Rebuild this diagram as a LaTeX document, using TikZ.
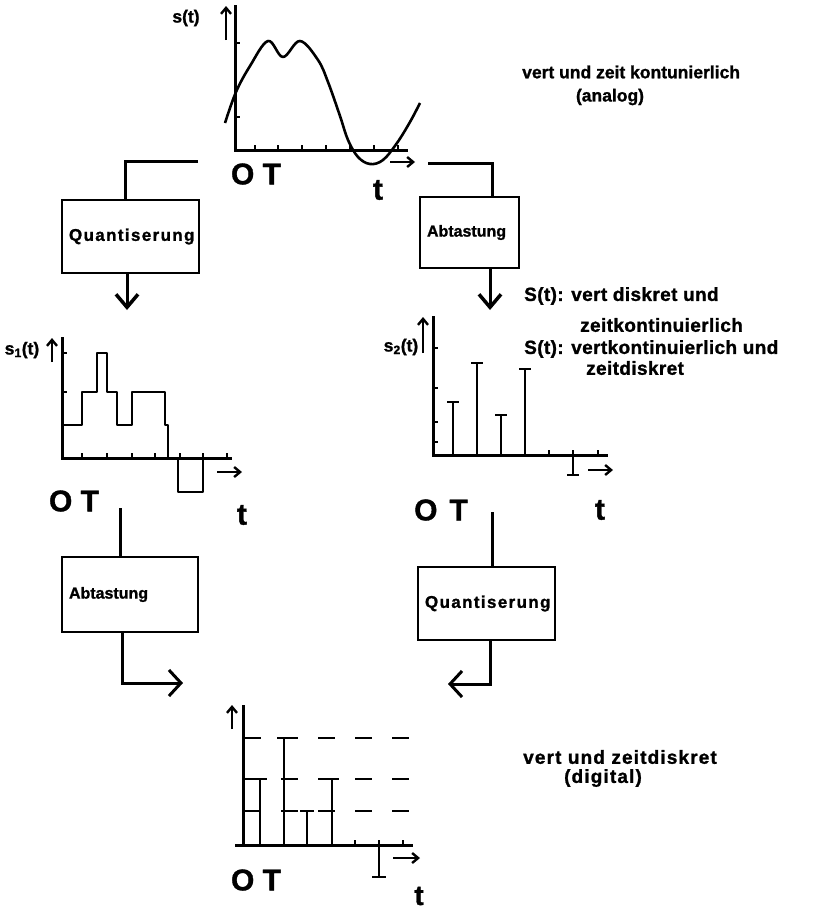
\documentclass[tikz,border=0pt]{standalone}
\usepackage{fontspec}
\setmainfont{Liberation Sans}[BoldFeatures={FakeBold=1.2}]
\newfontfamily\qspfont{Liberation Sans}[LetterSpace=8, BoldFeatures={FakeBold=1.2}]
\newfontfamily\dspfont{Liberation Sans}[LetterSpace=6, BoldFeatures={FakeBold=1.2}]
\newfontfamily\rspfont{Liberation Sans}[LetterSpace=2, BoldFeatures={FakeBold=1.2}]
\usetikzlibrary{arrows.meta}
\begin{document}
\begin{tikzpicture}[x=1pt,y=-1pt,
  ax/.style={line width=3pt},
  thin/.style={line width=2.4pt},
  curve/.style={line width=2.6pt, line join=round},
  boxn/.style={draw, line width=2.5pt, inner xsep=7pt, inner ysep=0pt, align=left,
    font=\bfseries\fontsize{16}{18}\selectfont},
  conn/.style={line width=3pt},
  vhead/.style={-{Straight Barb[length=13pt,width=22pt,line width=3.5pt]}},
  ohead/.style={-{Straight Barb[length=12pt,width=26pt,line width=3pt]}},
  sarrow/.style={line width=2.4pt,-{Straight Barb[length=6pt,width=10pt,line width=2.4pt]}},
  lbl/.style={font=\bfseries\fontsize{17.5}{19}\selectfont, inner sep=0pt},
  rlbl/.style={font=\rspfont\bfseries\fontsize{19}{21}\selectfont, inner sep=0pt},
  dlbl/.style={font=\dspfont\bfseries\fontsize{19}{21}\selectfont, inner sep=0pt},
  big/.style={font=\bfseries\fontsize{30}{32}\selectfont, inner sep=0pt},
]
\useasboundingbox (0,0) rectangle (835,913);
\fill[white] (0,0) rectangle (835,913);

% ---------- top plot (analog)
\node[lbl] (s0) at (186,18) {s(t)};
\coordinate (u0a) at (226,40); \coordinate (u0b) at (226,6);
\draw[sarrow] (u0a) -- (u0b);
\draw[ax] (235,5) -- (235,150) -- (408,150);
\foreach \x in {255,278,302,326,350,374,398} \draw[thin] (\x,150) -- (\x,145);
\foreach \y in {43,117} \draw[thin] (235,\y) -- (240,\y);
\draw[curve] plot[smooth, tension=0.6] coordinates {(225,123) (236,92) (250,66) (268,41) (283,57) (300,41) (318,60) (328,82) (340,116) (348,140) (358,157) (370,164) (383,160) (397,143) (410,122) (420,103)};
\coordinate (a0a) at (390,162); \coordinate (a0b) at (415,162);
\draw[sarrow] (a0a) -- (a0b);
\node[big] (ot0) at (256,174) {O T};
\node[big] (t0) at (378,190) {t};

\node[lbl, anchor=west] (d0) at (522,72) {vert und zeit kontunierlich};
\node[lbl] (d0b) at (610,97) {(analog)};

% ---------- boxes
\node[boxn, minimum height=73pt, text width=123pt, font=\qspfont\bfseries\fontsize{17}{19}\selectfont] (q1) at (130.5,236.5) {Quantiserung};
\node[boxn, minimum height=71pt, text width=85pt] (a1) at (469.5,232.5) {Abtastung};
\node[boxn, minimum height=75pt, text width=122pt] (a2) at (130,594.5) {Abtastung};
\node[boxn, minimum height=73pt, text width=123pt, font=\qspfont\bfseries\fontsize{17}{19}\selectfont] (q2) at (486.5,603.5) {Quantiserung};

% connectors top
\coordinate (tl) at (198,161);
\draw[conn] (tl) -| ([xshift=-5.5pt]q1.north);
\coordinate (tr) at (428,163);
\draw[conn] (tr) -| ([xshift=22.5pt]a1.north);
\coordinate (q1d) at (127,310);
\draw[conn,vhead] ([xshift=-3.5pt]q1.south) -- (q1d);
\coordinate (a1d) at (490,310);
\draw[conn,vhead] ([xshift=20.5pt]a1.south) -- (a1d);

% ---------- middle left plot
\node[lbl] (s1) at (22,350) {s\textsubscript{1}(t)};
\coordinate (u1a) at (52,362); \coordinate (u1b) at (52,338);
\draw[sarrow] (u1a) -- (u1b);
\draw[ax] (62,337) -- (62,458) -- (232,458);
\foreach \x in {82,107,132,155,180,203,227} \draw[thin] (\x,458) -- (\x,453);
\foreach \y in {353,392} \draw[thin] (62,\y) -- (67,\y);
\draw[curve] (62,425) -- (82,425) -- (82,392) -- (97,392) -- (97,353) -- (107,353) -- (107,392) -- (117,392) -- (117,425) -- (132,425) -- (132,392) -- (165,392) -- (165,425) -- (168,425) -- (168,458);
\draw[curve] (178,458) -- (178,492) -- (203,492) -- (203,458);
\coordinate (a1a) at (217,472); \coordinate (a1b) at (242,472);
\draw[sarrow] (a1a) -- (a1b);
\node[big] (ot1) at (74,501) {O T};
\node[big] (t1) at (242,515) {t};

% ---------- middle right plot
\node[lbl] (s2) at (401,347) {s\textsubscript{2}(t)};
\coordinate (u2a) at (423,353); \coordinate (u2b) at (423,317);
\draw[sarrow] (u2a) -- (u2b);
\draw[ax] (433,316) -- (433,455) -- (608,455);
\foreach \y in {348,388,422,442} \draw[thin] (433,\y) -- (438,\y);
\foreach \x/\y in {453/402,477/363,501/415,525/369} {
  \draw[thin] (\x,455) -- (\x,\y);
  \draw[thin] (\x-6,\y) -- (\x+6,\y);
}
\foreach \x in {549,598} \draw[thin] (\x,455) -- (\x,450);
\draw[thin] (573,450) -- (573,475);
\draw[thin] (567,475) -- (579,475);
\coordinate (a2a) at (588,470); \coordinate (a2b) at (613,470);
\draw[sarrow] (a2a) -- (a2b);
\node[big] (ot2) at (441,510) {O\hspace{12pt}T};
\node[big] (t2) at (600,510) {t};

\node[rlbl, anchor=west] (r1) at (524,296) {S(t): vert diskret und};
\node[rlbl, anchor=west] (r2) at (580,325) {zeitkontinuierlich};
\node[rlbl, anchor=west] (r3) at (524,349) {S(t): vertkontinuierlich und};
\node[rlbl, anchor=west] (r4) at (586,368) {zeitdiskret};

% connectors lower
\coordinate (bl) at (120,508);
\draw[conn] (bl) -- ([xshift=-10pt]a2.north);
\coordinate (blh) at (183,683);
\draw[conn,ohead] ([xshift=-8pt]a2.south) |- (blh);
\coordinate (br) at (492,512);
\draw[conn] (br) -- ([xshift=5.5pt]q2.north);
\coordinate (brh) at (448,684);
\draw[conn,ohead] ([xshift=3.5pt]q2.south) |- (brh);

% ---------- bottom plot (digital)
\coordinate (u3a) at (232,729); \coordinate (u3b) at (232,705);
\draw[sarrow] (u3a) -- (u3b);
\draw[ax] (243,705) -- (243,845);
\draw[ax] (235,845) -- (413,845);
\foreach \y in {738,779,811} \draw[thin, dash pattern=on 17pt off 20pt] (244,\y) -- (412,\y);
\foreach \x/\y in {260/779,284/738,307/811,332/779} {
  \draw[thin] (\x,845) -- (\x,\y);
  \draw[thin] (\x-7,\y) -- (\x+7,\y);
}
\foreach \x in {355,403} \draw[thin] (\x,845) -- (\x,840);
\draw[thin] (379,840) -- (379,877);
\draw[thin] (372,877) -- (386,877);
\coordinate (a3a) at (393,858); \coordinate (a3b) at (420,858);
\draw[sarrow] (a3a) -- (a3b);
\node[big] (ot3) at (256,880) {O T};
\node[big, font=\bfseries\fontsize{28}{30}\selectfont] (t3) at (419,896) {t};

\node[dlbl] (d3) at (620,757) {vert und zeitdiskret};
\node[dlbl] (d3b) at (603,778) {(digital)};
\end{tikzpicture}
\end{document}
